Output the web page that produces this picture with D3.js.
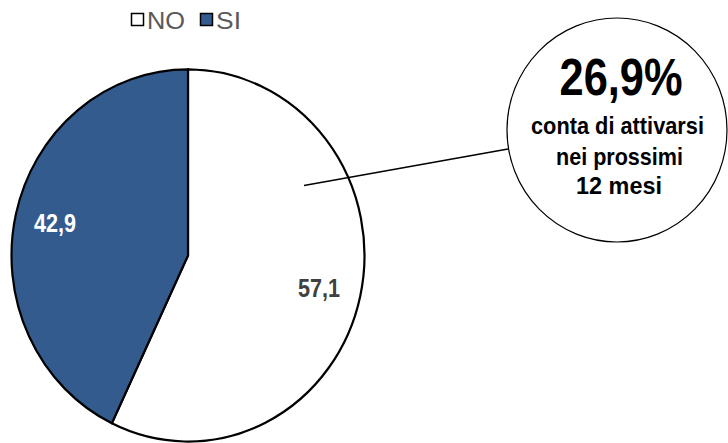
<!DOCTYPE html>
<html>
<head>
<meta charset="utf-8">
<script src="https://cdn.jsdelivr.net/npm/d3@7"></script>
<style>
  body { margin: 0; background: #fff; }
  svg { display: block; font-family: "Liberation Sans", Arial, sans-serif; }
</style>
</head>
<body>
<div id="chart"></div>
<script>
// Data
const categories = ["NO", "SI"];
const values = [57.1, 42.9];
const valueLabels = ["57,1", "42,9"];
const calloutValue = "26,9%";
const calloutLines = ["conta di attivarsi", "nei prossimi", "12 mesi"];

const width = 728, height = 443;
const colors = { NO: "#ffffff", SI: "#335b8e" };
const labelColors = { NO: "#404040", SI: "#ffffff" };

const svg = d3.select("#chart").append("svg")
  .attr("width", width)
  .attr("height", height);

// pie is slightly stretched vertically in the original
const cx = 188, cy = 255.5, r = 176.5, stretch = 1.054;

const pie = d3.pie().sort(null).value(d => d.value);
const arcs = pie(categories.map((c, i) => ({ key: c, value: values[i], label: valueLabels[i] })));

const arc = d3.arc().innerRadius(0).outerRadius(r);
const labelArc = d3.arc().innerRadius(r * 0.79).outerRadius(r * 0.79);

const g = svg.append("g")
  .attr("transform", `translate(${cx},${cy}) scale(1,${stretch})`);

g.selectAll("path.slice")
  .data(arcs)
  .join("path")
  .attr("class", "slice")
  .attr("d", arc)
  .attr("fill", d => colors[d.data.key])
  .attr("stroke", "#000")
  .attr("stroke-width", 2.2)
  .attr("vector-effect", "non-scaling-stroke");

// slice labels
arcs.forEach(d => {
  const [x, y] = labelArc.centroid(d);
  const adj = d.data.key === "NO" ? [-5, 0] : [3, 0];
  svg.append("text")
    .attr("transform", `translate(${cx + x + adj[0]},${cy + y * stretch + adj[1]}) scale(1,${stretch})`)
    .attr("text-anchor", "middle")
    .attr("dy", "0.36em")
    .attr("font-size", 25)
    .attr("font-weight", "bold")
    .attr("fill", labelColors[d.data.key])
    .attr("textLength", 42)
    .attr("lengthAdjust", "spacingAndGlyphs")
    .text(d.data.label);
});

// Legend
const legend = svg.append("g").attr("transform", "translate(131,13)");
const legendItems = [
  { key: "NO", x: 0, tw: 38 },
  { key: "SI", x: 69, tw: 25 }
];
legendItems.forEach(it => {
  legend.append("rect")
    .attr("x", it.x + 0.5)
    .attr("y", 0.5)
    .attr("width", 12)
    .attr("height", 12)
    .attr("fill", colors[it.key])
    .attr("stroke", "#000")
    .attr("stroke-width", 1.5);
  legend.append("text")
    .attr("transform", `translate(${it.x + 16},16) scale(1,${stretch})`)
    .attr("font-size", 23)
    .attr("fill", "#595959")
    .attr("textLength", it.tw)
    .attr("lengthAdjust", "spacingAndGlyphs")
    .text(it.key);
});

// Leader line to callout
svg.append("line")
  .attr("x1", 304).attr("y1", 185.5)
  .attr("x2", 508).attr("y2", 149)
  .attr("stroke", "#000")
  .attr("stroke-width", 1.5);

// Callout bubble
const bx = 617, by = 130;
svg.append("ellipse")
  .attr("cx", bx).attr("cy", by)
  .attr("rx", 110).attr("ry", 112)
  .attr("fill", "#fff")
  .attr("stroke", "#000")
  .attr("stroke-width", 1.2);

svg.append("text")
  .attr("transform", `translate(621,95) scale(1,${stretch})`)
  .attr("text-anchor", "middle")
  .attr("font-size", 50)
  .attr("font-weight", "bold")
  .attr("fill", "#000")
  .attr("textLength", 123)
  .attr("lengthAdjust", "spacingAndGlyphs")
  .text(calloutValue);

const lineY = [134, 165, 194];
const lineW = [173, 127, 86];
const lineX = [617.5, 619.5, 619];
calloutLines.forEach((t, i) => {
  svg.append("text")
    .attr("transform", `translate(${lineX[i]},${lineY[i]}) scale(1,${stretch})`)
    .attr("text-anchor", "middle")
    .attr("font-size", 23)
    .attr("font-weight", "bold")
    .attr("fill", "#000")
    .attr("textLength", lineW[i])
    .attr("lengthAdjust", "spacingAndGlyphs")
    .text(t);
});
</script>
</body>
</html>
